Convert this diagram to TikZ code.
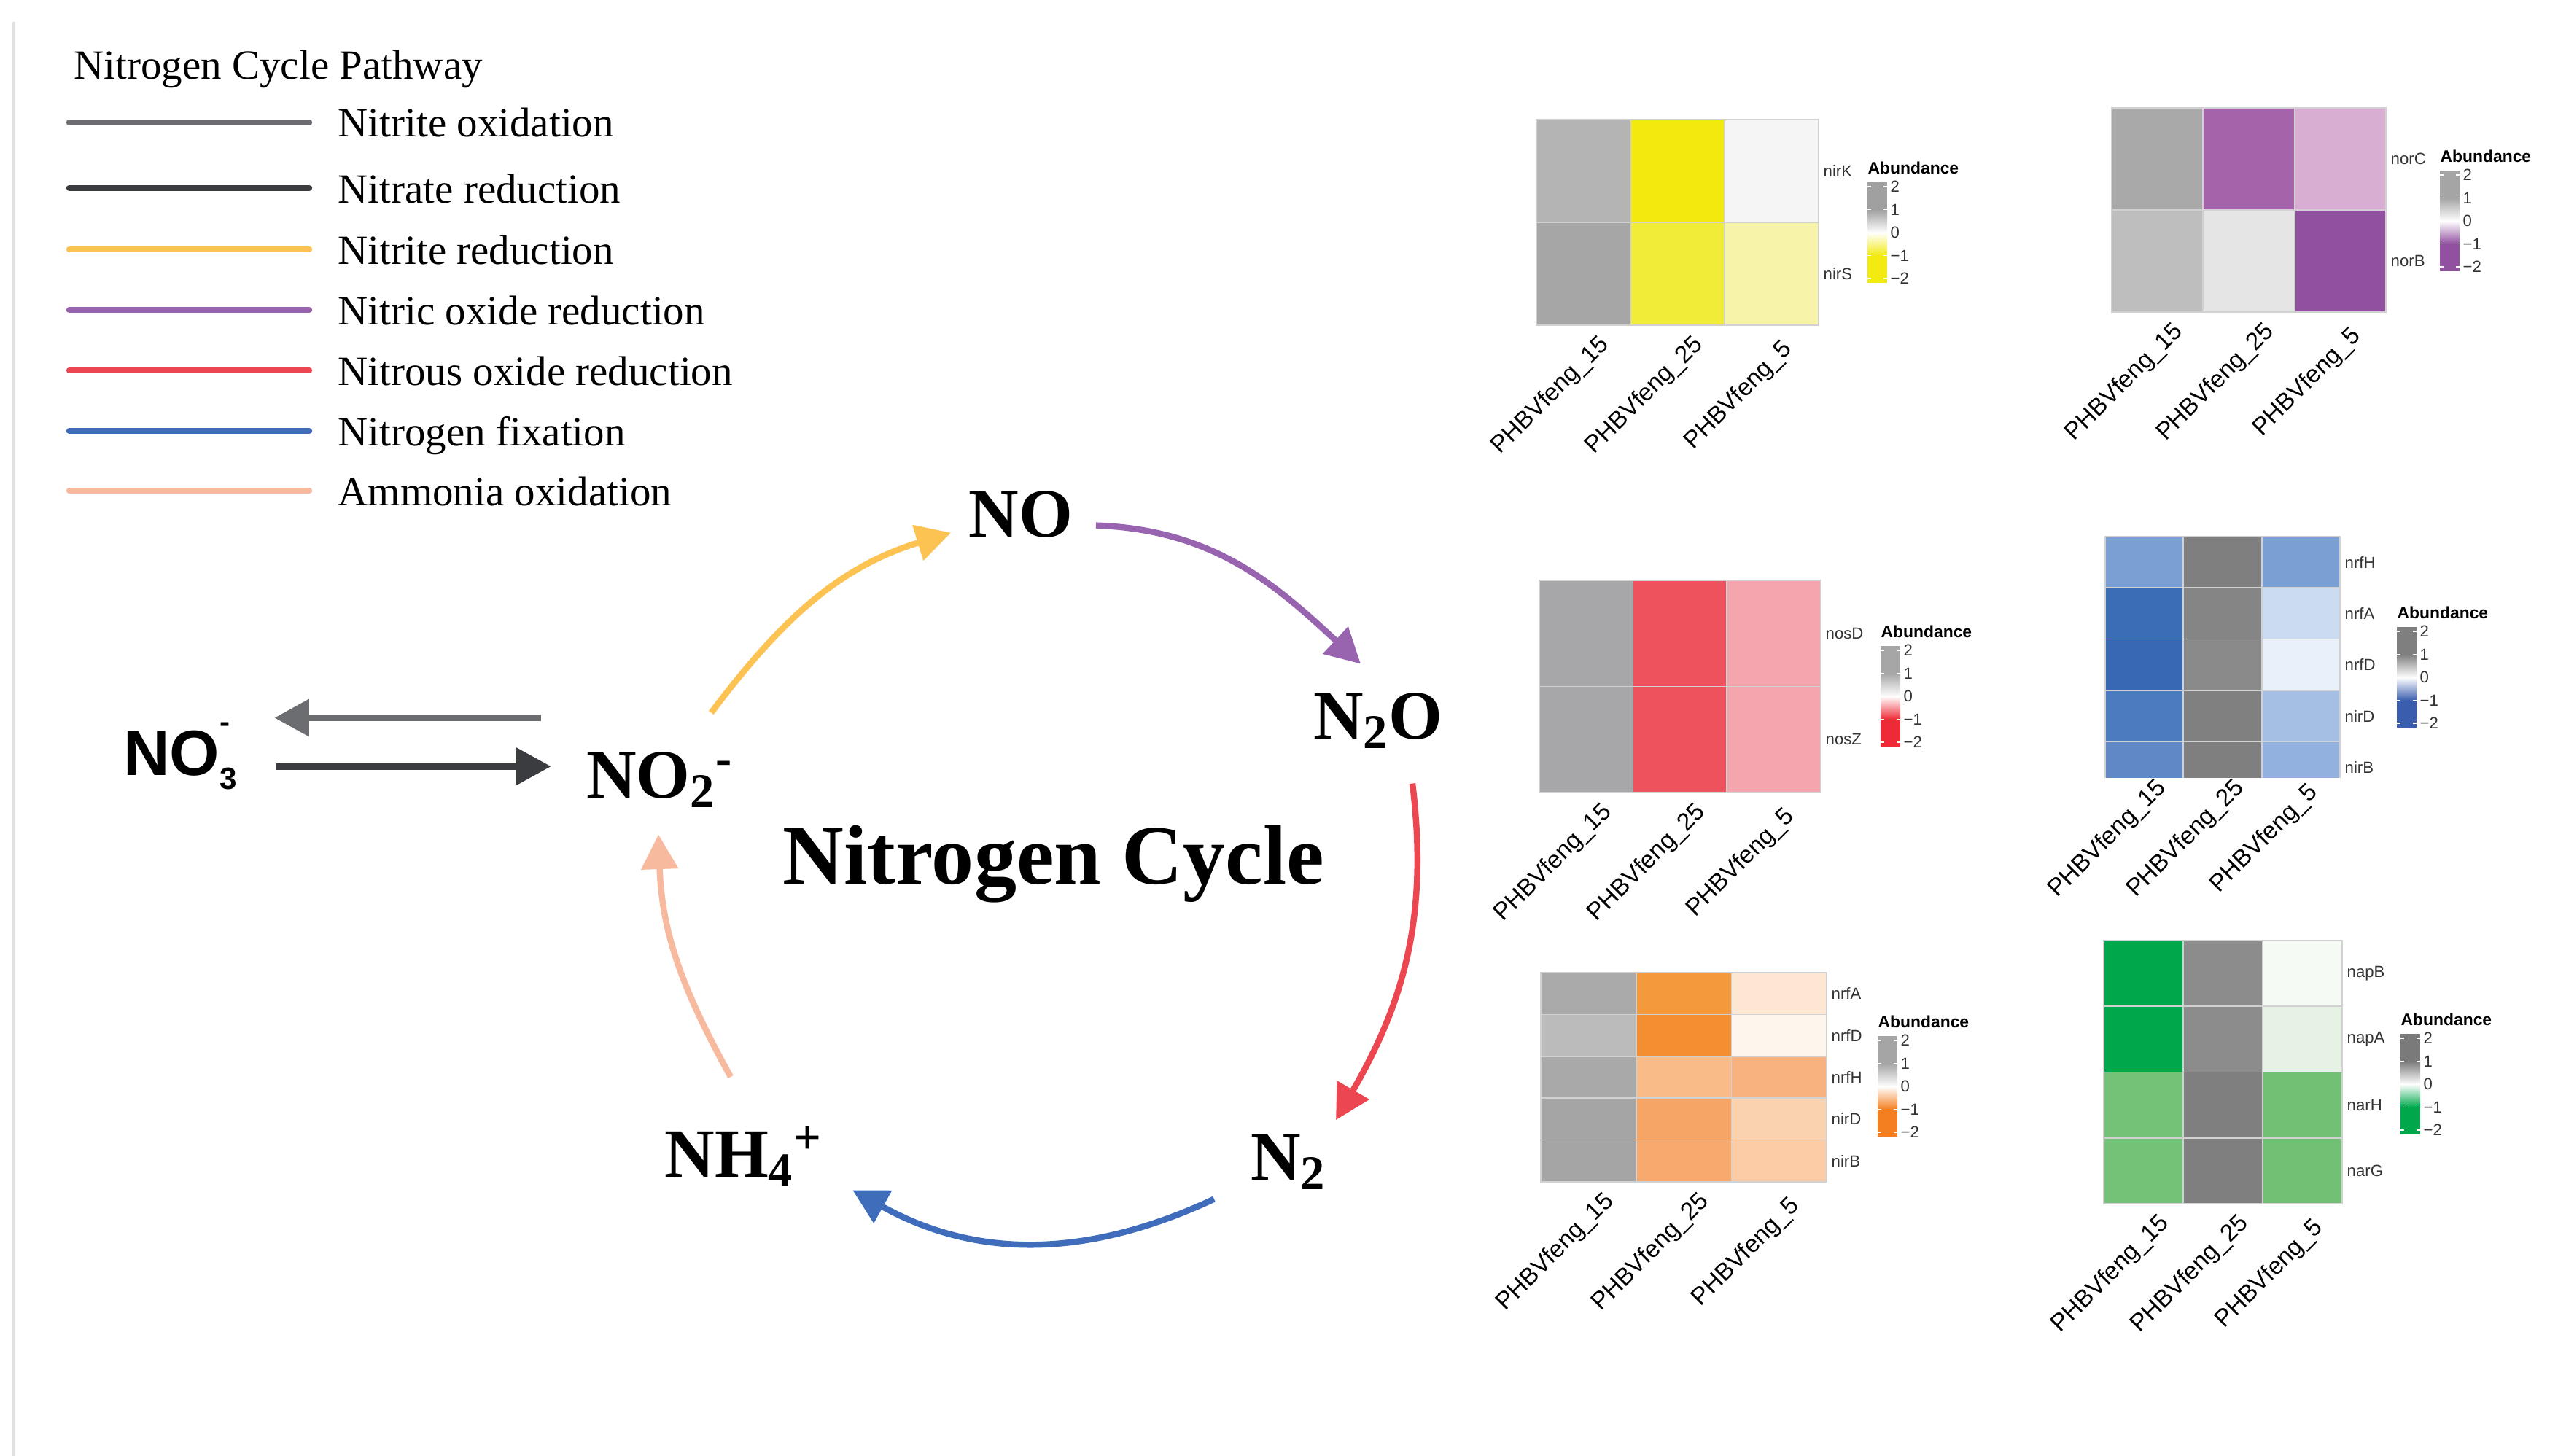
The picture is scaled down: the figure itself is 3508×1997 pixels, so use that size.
\documentclass[tikz,border=0pt]{standalone}
\usepackage{fontspec}
\setmainfont{Liberation Serif}
\setsansfont{Liberation Sans}
\usetikzlibrary{arrows.meta,calc}

\definecolor{nitox}{RGB}{108,109,113}
\definecolor{nared}{RGB}{58,60,64}
\definecolor{niredc}{RGB}{252,195,82}
\definecolor{noredc}{RGB}{152,100,176}
\definecolor{nosred}{RGB}{236,70,80}
\definecolor{nfixc}{RGB}{64,108,188}
\definecolor{amox}{RGB}{248,186,158}

% colour bar of one heatmap: name, x, y of tick "2", low colour, high colour
\newcommand{\abbar}[5]{%
  \definecolor{barlo}{HTML}{#4}\definecolor{barhi}{HTML}{#5}%
  \node[abtitle, anchor=south west] (#1) at (#2,#3+17) {Abundance};
  \fill[barlo] (#2,#3-132) rectangle (#2+27,#3-94.5);
  \shade[bottom color=barlo, top color=white] (#2,#3-95) rectangle (#2+27,#3-63);
  \shade[bottom color=white, top color=barhi] (#2,#3-63.5) rectangle (#2+27,#3-31.5);
  \fill[barhi] (#2,#3-32) rectangle (#2+27,#3+6);
  \foreach \tk [count=\kk from 0] in {2,1,0,−1,−2}{
    \draw[white, line width=0.5pt] (#2,#3-\kk*31.5) -- ++(5,0) (#2+22,#3-\kk*31.5) -- ++(5,0);
    \node[abtick, anchor=west] (#1-\kk) at (#2+31,#3-\kk*31.5) {\tk};
  }%
}

\begin{document}
\begin{tikzpicture}[
  x=0.01cm, y=0.01cm,
  leg/.style={font=\fontsize{16.2}{19}\selectfont, anchor=base west, inner sep=0},
  legline/.style={line width=2.4pt, line cap=round},
  chem/.style={font=\bfseries\fontsize{27}{32}\selectfont, inner sep=0, anchor=base},
  cyc/.style={line width=2.4pt, -{Triangle[length=13.5pt,width=14pt]}},
  cell/.style={draw=black!18, line width=0.5pt},
  gene/.style={font=\sffamily\fontsize{6.3}{7}\selectfont, anchor=west, inner sep=0, text=black!80},
  samp/.style={font=\sffamily\fontsize{9.5}{11}\selectfont, rotate=45, inner sep=0},
  abtitle/.style={font=\sffamily\bfseries\fontsize{6.5}{7.5}\selectfont, inner sep=0},
  abtick/.style={font=\sffamily\fontsize{6.3}{7}\selectfont, inner sep=0, text=black!80}
]
\useasboundingbox (0,0) rectangle (3508,-1997);
\draw[black!12, line width=0.9pt] (19,-30) -- (19,-1997);

% legend
\node[leg] (legt) at (101,-109) {Nitrogen Cycle Pathway};
\foreach \yy/\cl/\txt [count=\ii] in {168/nitox/Nitrite oxidation, 258/nared/Nitrate reduction,
    342/niredc/Nitrite reduction, 425/noredc/Nitric oxide reduction,
    508/nosred/Nitrous oxide reduction, 591/nfixc/Nitrogen fixation, 673/amox/Ammonia oxidation}{
  \draw[legline, \cl] (95,-\yy) -- (424,-\yy);
  \node[leg] (leg\ii) at (463,-\yy-20) {\txt};
}

% cycle
\node[chem] (no) at (1400,-736) {NO};
\node[chem] (no2) at (905,-1094) {NO\textsubscript{2}\textsuperscript{-}};
\node[chem] (n2o) at (1890,-1013) {N\textsubscript{2}O};
\node[chem] (n2) at (1767,-1618) {N\textsubscript{2}};
\node[chem] (nh4) at (1020,-1614) {NH\textsubscript{4}\textsuperscript{+}};
\node[chem, font=\sffamily\bfseries\fontsize{25}{30}\selectfont] (no3) at (247,-1063)
  {NO\rlap{\raisebox{0.66em}{\fontsize{12}{12}\selectfont -}}\raisebox{-0.22em}{\fontsize{12}{12}\selectfont 3}};
\node[chem, font=\bfseries\fontsize{33}{40}\selectfont] (cyc) at (1445,-1212) {Nitrogen Cycle};

\coordinate (oxR) at ($(no2.west)+(-62,85)$);
\coordinate (oxL) at ($(no3.east)+(51,0)$);
\coordinate (rdL) at ($(no3.east)+(54,-14)$);
\coordinate (rdR) at ($(no2.west)+(-48,0)$);
\draw[line width=2.6pt, nitox, -{Triangle[length=13.5pt,width=14pt]}] (oxR) -- (oxR -| oxL);
\draw[line width=2.6pt, nared, -{Triangle[length=13.5pt,width=14pt]}] (rdL) -- (rdL -| rdR);

\draw[cyc, niredc] ($(no2.north east)+(-31,53)$) to[out=53,in=197] ($(no.south west)+(-24,7)$);
\draw[cyc, noredc] ($(no.south east)+(31,17)$) to[out=-2,in=137] ($(n2o.north)+(-24,39)$);
\draw[cyc, nosred] ($(n2o.south)+(47,-47)$) to[out=-83,in=60] ($(n2.north)+(65,19)$);
\draw[cyc, nfixc] ($(n2.south)+(-102,-12)$) to[out=205,in=-29] ($(nh4.south east)+(40,-4)$);
\draw[cyc, amox] ($(nh4.north)+(-18,67)$) to[out=119,in=-88] ($(no2.south)+(-2,-36)$);

% nitrite reduction genes
\begin{scope}[shift={(2107,-164)}]
  \foreach \cx/\ry/\hx in {0/0/B4B4B4,1/0/F2E90E,2/0/F5F5F5,0/1/A6A6A6,1/1/F1EC38,2/1/F7F4AA}{
    \definecolor{cellc}{HTML}{\hx}
    \draw[cell, fill=cellc] (\cx*129,-\ry*141) rectangle ++(129,-141);
  }
  \foreach \gn [count=\rw from 0] in {nirK,nirS}
    \node[gene] (yel-\gn) at (393,-\rw*141-70.5) {\gn};
  \foreach \sm [count=\cx from 0] in {15,25,5}
    \node[samp] (yel-s\sm) at (\cx*129+64.5-45,-282-97) {PHBVfeng\_\sm};
\end{scope}
\abbar{yel-ab}{2561}{-256}{F2EA10}{A0A0A0}

% nitric oxide reduction genes
\begin{scope}[shift={(2896,-148)}]
  \foreach \cx/\ry/\hx in {0/0/A9A9A9,1/0/A564A9,2/0/D9AED3,0/1/BEBEBE,1/1/E5E5E5,2/1/9150A0}{
    \definecolor{cellc}{HTML}{\hx}
    \draw[cell, fill=cellc] (\cx*125.3,-\ry*140) rectangle ++(125.3,-140);
  }
  \foreach \gn [count=\rw from 0] in {norC,norB}
    \node[gene] (pur-\gn) at (382,-\rw*140-70) {\gn};
  \foreach \sm [count=\cx from 0] in {15,25,5}
    \node[samp] (pur-s\sm) at (\cx*125.3+62.6-45,-280-97) {PHBVfeng\_\sm};
\end{scope}
\abbar{pur-ab}{3346}{-240}{9150A0}{A5A5A5}

% nitrous oxide reduction genes
\begin{scope}[shift={(2111,-796)}]
  \foreach \cx/\ry/\hx in {0/0/A7A7A9,1/0/EE525C,2/0/F5A5AD,0/1/A7A7A9,1/1/EE525C,2/1/F5A5AD}{
    \definecolor{cellc}{HTML}{\hx}
    \draw[cell, fill=cellc] (\cx*128.5,-\ry*145.5) rectangle ++(128.5,-145.5);
  }
  \foreach \gn [count=\rw from 0] in {nosD,nosZ}
    \node[gene] (red-\gn) at (392,-\rw*145.5-72.7) {\gn};
  \foreach \sm [count=\cx from 0] in {15,25,5}
    \node[samp] (red-s\sm) at (\cx*128.5+64.2-45,-291-97) {PHBVfeng\_\sm};
\end{scope}
\abbar{red-ab}{2579}{-892}{EE2A36}{A6A6A6}

% nitrogen fixation genes
\begin{scope}[shift={(2887,-736)}]
  \begin{scope}
    \clip (-2,2) rectangle (324,-330);
    \foreach \cx/\ry/\hx in {0/0/7A9FD3,0/1/3A6DB6,0/2/3868B4,0/3/4D7BC0,0/4/6188C6,
        1/0/7F7F7F,1/1/858585,1/2/8A8A8A,1/3/808080,1/4/7F7F7F,
        2/0/7A9FD3,2/1/CCDCF0,2/2/EAF0F9,2/3/A5BFE4,2/4/93B1DE}{
      \definecolor{cellc}{HTML}{\hx}
      \draw[cell, fill=cellc] (\cx*107.3,-\ry*70.3) rectangle ++(107.3,-70.3);
    }
  \end{scope}
  \foreach \gn [count=\rw from 0] in {nrfH,nrfA,nrfD,nirD,nirB}
    \node[gene] (blu-\gn) at (328,-\rw*70.3-35.2) {\gn};
  \foreach \sm [count=\cx from 0] in {15,25,5}
    \node[samp] (blu-s\sm) at (\cx*107.3+53.6-50,-330-85) {PHBVfeng\_\sm};
\end{scope}
\abbar{blu-ab}{3287}{-866}{3A5DAE}{7F7F7F}

% DNRA genes
\begin{scope}[shift={(2113,-1334)}]
  \foreach \cx/\ry/\hx in {0/0/AAAAAA,0/1/BBBBBB,0/2/A9A9A9,0/3/A5A5A5,0/4/A5A5A5,
      1/0/F59A3C,1/1/F48F31,1/2/F9BB87,1/3/F7A467,1/4/F7A96E,
      2/0/FDE6D2,2/1/FEF5EC,2/2/F8B27F,2/3/FBD2AF,2/4/FBCCA6}{
    \definecolor{cellc}{HTML}{\hx}
    \draw[cell, fill=cellc] (\cx*130.7,-\ry*57.4) rectangle ++(130.7,-57.4);
  }
  \foreach \gn [count=\rw from 0] in {nrfA,nrfD,nrfH,nirD,nirB}
    \node[gene] (org-\gn) at (398,-\rw*57.4-28.7) {\gn};
  \foreach \sm [count=\cx from 0] in {15,25,5}
    \node[samp] (org-s\sm) at (\cx*130.7+65.3-45,-287-97) {PHBVfeng\_\sm};
\end{scope}
\abbar{org-ab}{2575}{-1427}{F47F20}{A5A5A5}

% nitrate reduction genes
\begin{scope}[shift={(2885,-1290)}]
  \foreach \cx/\ry/\hx in {0/0/00A84B,0/1/00A84B,0/2/74C277,0/3/74C277,
      1/0/8C8C8C,1/1/8C8C8C,1/2/7F7F7F,1/3/7F7F7F,
      2/0/F6FAF4,2/1/E6F3E4,2/2/72C073,2/3/72C073}{
    \definecolor{cellc}{HTML}{\hx}
    \draw[cell, fill=cellc] (\cx*109,-\ry*90.3) rectangle ++(109,-90.3);
  }
  \foreach \gn [count=\rw from 0] in {napB,napA,narH,narG}
    \node[gene] (grn-\gn) at (333,-\rw*90.3-45.1) {\gn};
  \foreach \sm [count=\cx from 0] in {15,25,5}
    \node[samp] (grn-s\sm) at (\cx*109+54.5-45,-361-97) {PHBVfeng\_\sm};
\end{scope}
\abbar{grn-ab}{3292}{-1424}{00A84B}{7A7A7A}
\end{tikzpicture}
\end{document}
